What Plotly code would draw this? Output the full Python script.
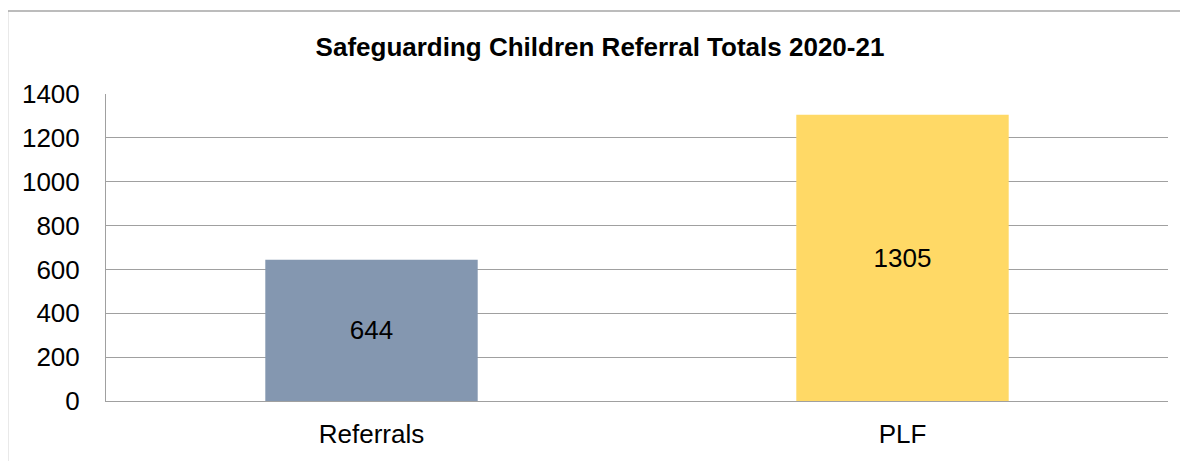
import plotly.graph_objects as go

categories = ["Referrals", "PLF"]
values = [644, 1305]
colors = ["#8497B0", "#FFD966"]
y_ticks = [0, 200, 400, 600, 800, 1000, 1200, 1400]

W, H = 1180, 453  # page body has 8px default margin
fig = go.Figure()
fig.add_trace(go.Bar(
    x=categories, y=values,
    marker=dict(color=colors, line=dict(width=0)),
    text=[str(v) for v in values],
    textposition="inside", insidetextanchor="middle",
    textfont=dict(family="Liberation Sans, Arial", size=26, color="#000000"),
    cliponaxis=False,
))

fig.update_layout(
    width=W, height=H,
    margin=dict(l=98, r=20, t=86, b=58),
    paper_bgcolor="white", plot_bgcolor="white",
    bargap=0.6,
    showlegend=False,
    title=dict(
        text="<b>Safeguarding Children Referral Totals 2020-21</b>",
        x=(600 - 8) / W, xanchor="center", y=1 - (47 - 8) / H, yanchor="middle", yref="container",
        font=dict(family="Liberation Sans, Arial", size=26, color="#000000"),
    ),
    font=dict(family="Liberation Sans, Arial", size=26, color="#000000"),
    xaxis=dict(
        showline=True, linecolor="#A0A0A0", linewidth=1,
        showgrid=False, ticks="", ticklabelstandoff=10,
        tickfont=dict(size=26),
    ),
    yaxis=dict(
        range=[0, 1400], tickvals=y_ticks,
        showline=True, linecolor="#A0A0A0", linewidth=1,
        showgrid=True, gridcolor="#A0A0A0", gridwidth=1,
        zeroline=False, ticks="", ticklabelstandoff=20,
        tickfont=dict(size=26),
    ),
    shapes=[dict(
        type="rect", xref="paper", yref="paper",
        x0=(7.5 - 106) / 1062, x1=1.2,
        y0=(403 - 10.5) / 309, y1=-0.3,
        line=dict(color="#A6A6A6", width=1.5), fillcolor="rgba(0,0,0,0)",
        layer="below",
    )],
)

fig.write_html("out.html")
